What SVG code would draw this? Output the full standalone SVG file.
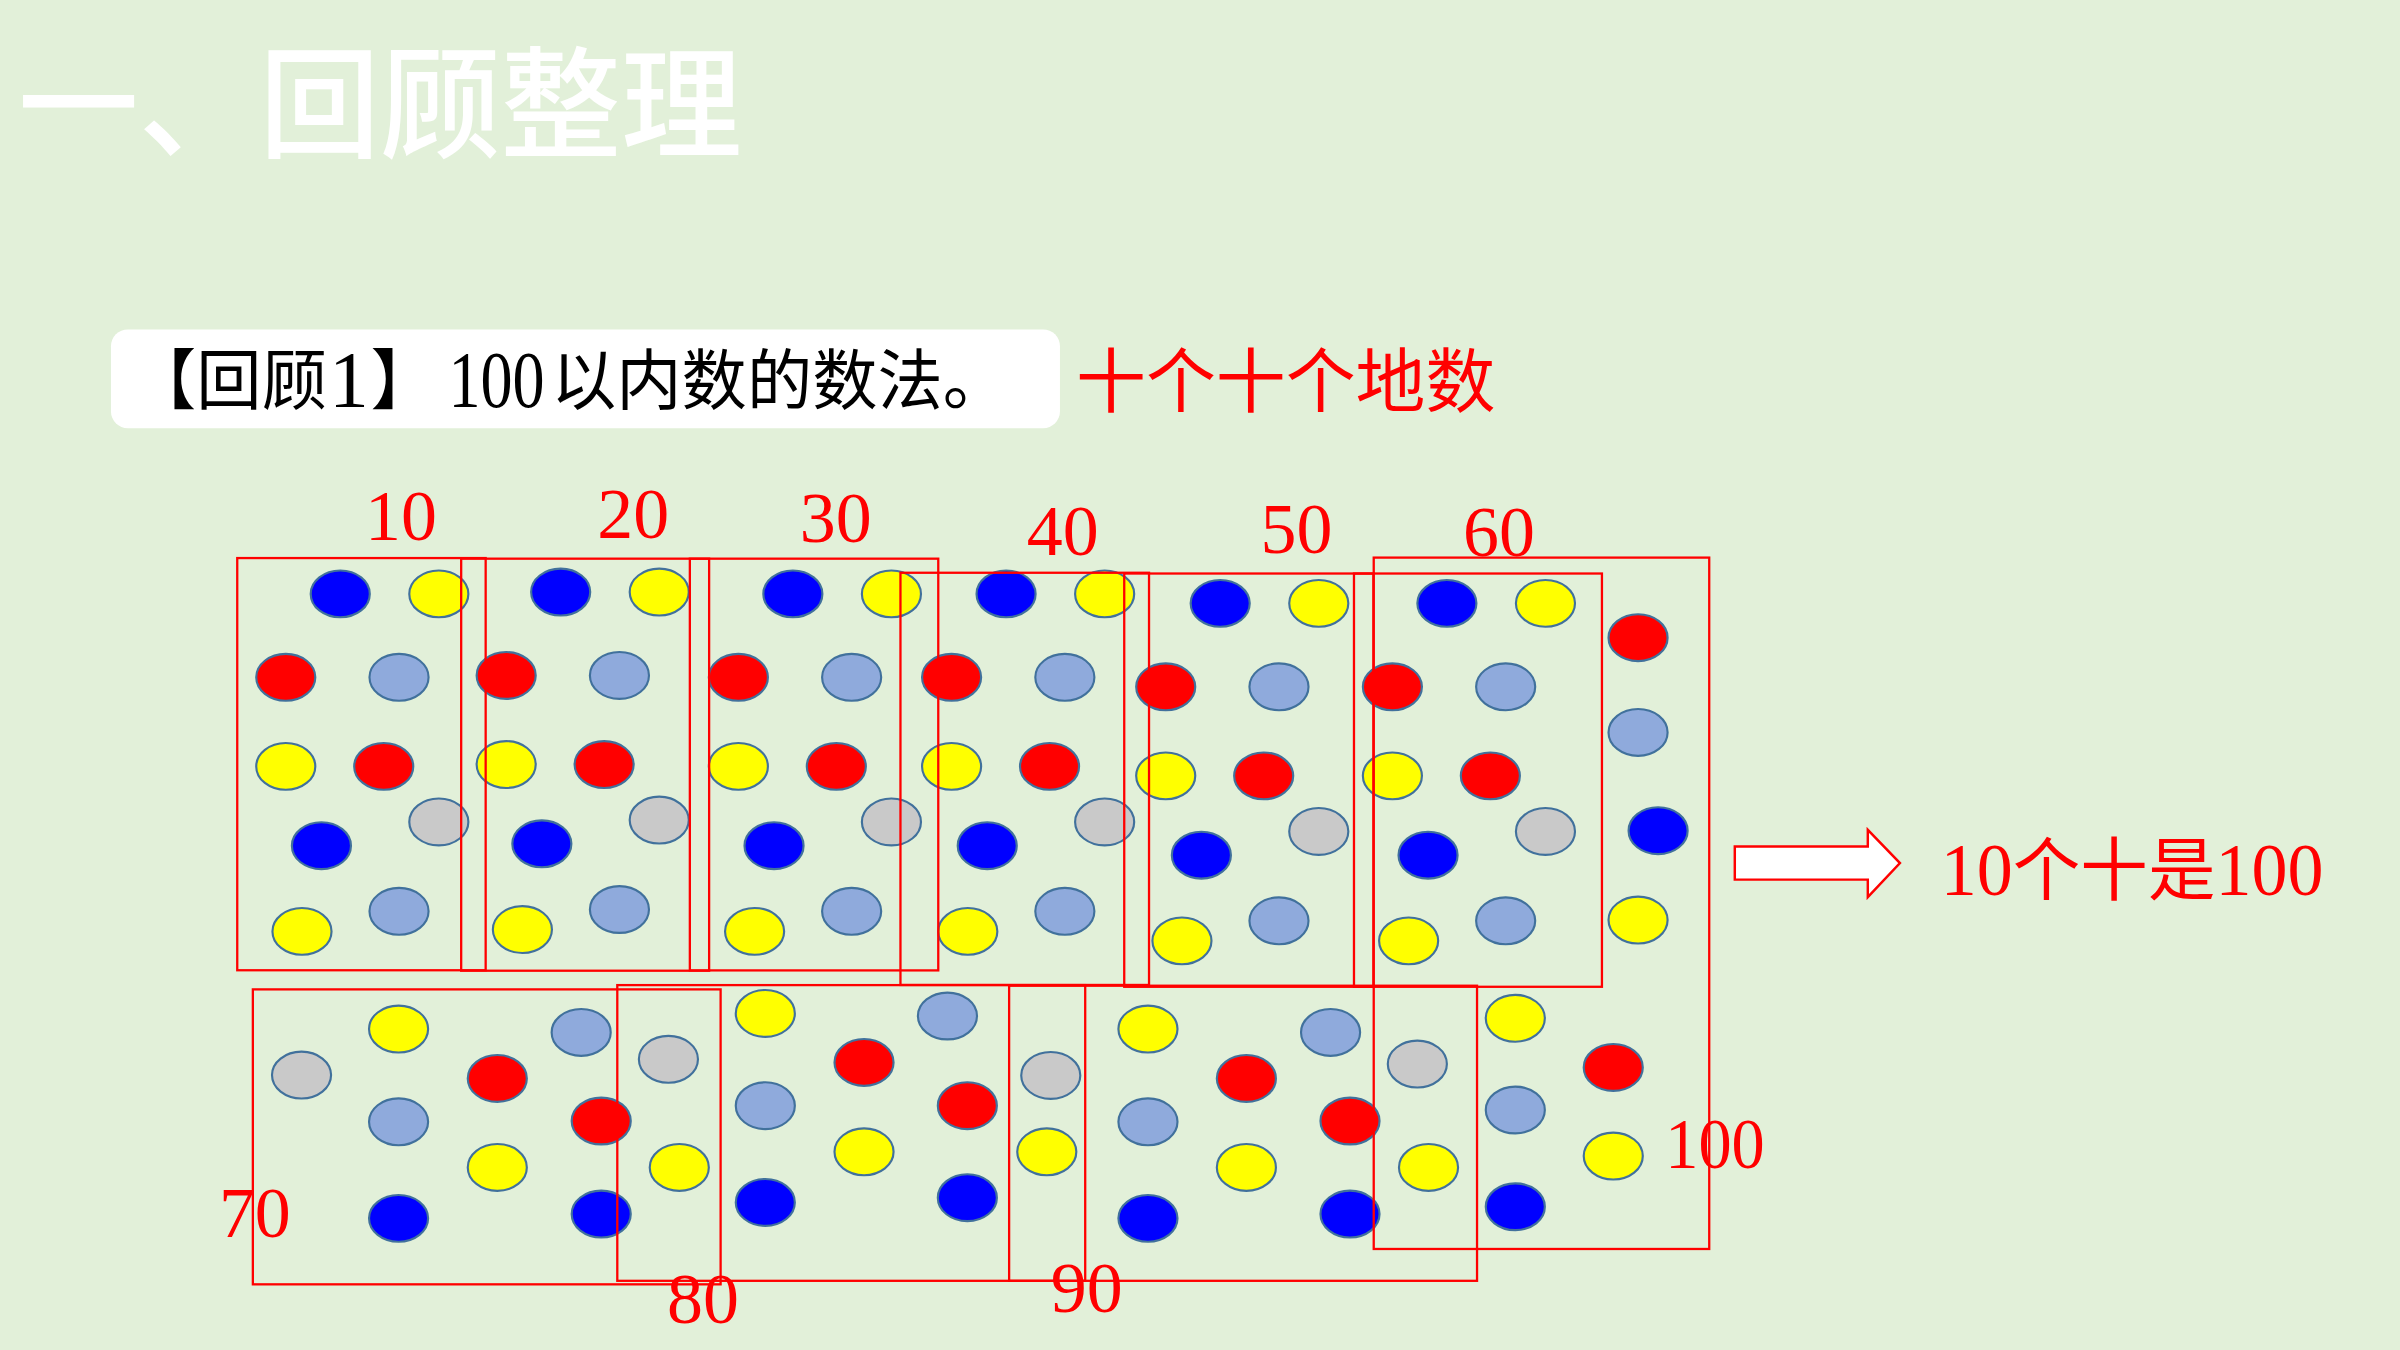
<svg xmlns="http://www.w3.org/2000/svg" xmlns:xlink="http://www.w3.org/1999/xlink" width="2400" height="1350" viewBox="0 0 2400 1350">
<style>
.cjk{font-family:"Noto Sans CJK SC","Noto Sans",sans-serif}
.ser{font-family:"Liberation Serif","Noto Sans CJK SC",serif}
.num{font-family:"Liberation Serif","Noto Sans CJK SC",serif;fill:#FF0000;font-size:47px;text-anchor:middle}
.b{fill:#0000FF}.y{fill:#FFFF00}.r{fill:#FF0000}.l{fill:#8FAADC}.g{fill:#C9C9C9}
.f{fill:none;stroke:#FF0000;stroke-width:1.5}
</style>
<defs>
<ellipse id="d" cx="0" cy="0" rx="19.3" ry="15.3" stroke="#41719C" stroke-width="1.4"/>
<g id="ten">
<use xlink:href="#d" href="#d" class="b" x="0" y="0"/>
<use xlink:href="#d" href="#d" class="y" x="64.4" y="0"/>
<use xlink:href="#d" href="#d" class="r" x="-35.6" y="54.5"/>
<use xlink:href="#d" href="#d" class="l" x="38.4" y="54.5"/>
<use xlink:href="#d" href="#d" class="y" x="-35.6" y="112.7"/>
<use xlink:href="#d" href="#d" class="r" x="28.4" y="112.7"/>
<use xlink:href="#d" href="#d" class="g" x="64.4" y="149"/>
<use xlink:href="#d" href="#d" class="b" x="-12.3" y="164.5"/>
<use xlink:href="#d" href="#d" class="y" x="-25" y="220.5"/>
<use xlink:href="#d" href="#d" class="l" x="38.4" y="207.4"/>
</g>
</defs>
<rect x="0" y="0" width="2400" height="1350" fill="#E2F0D9"/>
<g transform="scale(1.5306122)">
<g id="title">
<text class="cjk" x="11.7" y="97" font-size="79" fill="#FFFFFF" font-weight="500" textLength="473" lengthAdjust="spacingAndGlyphs">一、回顾整理</text>
</g>
<g id="subtitle">
<rect x="72.5" y="215.2" width="620" height="64.6" rx="11" fill="#FFFFFF"/>
<text class="ser" x="85.6" y="264" font-size="43" fill="#000000" textLength="128" lengthAdjust="spacingAndGlyphs">【回顾</text>
<text class="ser" x="228" y="266" font-size="52" fill="#000000" text-anchor="middle">1</text>
<text class="ser" x="242" y="264" font-size="43" fill="#000000">】</text>
<text class="ser" transform="translate(293 266) scale(0.79 1)" x="0" y="0" font-size="53" fill="#000000">100</text>
<text class="ser" x="360" y="264" font-size="43" fill="#000000" textLength="298.6" lengthAdjust="spacingAndGlyphs">以内数的数法。</text>
</g>
<g id="hint">
<text class="ser" x="703" y="266" font-size="46" fill="#FF0000" textLength="274" lengthAdjust="spacingAndGlyphs">十个十个地数</text>
</g>
<g id="dots">
<g id="dots10"><use xlink:href="#ten" href="#ten" x="222.3" y="388"/></g>
<g id="dots20"><use xlink:href="#ten" href="#ten" x="366.3" y="386.8"/></g>
<g id="dots30"><use xlink:href="#ten" href="#ten" x="518" y="388"/></g>
<g id="dots40"><use xlink:href="#ten" href="#ten" x="657.3" y="388"/></g>
<g id="dots50"><use xlink:href="#ten" href="#ten" x="797.2" y="394.2"/></g>
<g id="dots60"><use xlink:href="#ten" href="#ten" x="945.3" y="394.2"/></g>
<g id="dots70">
<use xlink:href="#d" href="#d" class="g" x="197" y="702.4"/>
<use xlink:href="#d" href="#d" class="y" x="260.4" y="672.3"/>
<use xlink:href="#d" href="#d" class="l" x="260.4" y="732.9"/>
<use xlink:href="#d" href="#d" class="b" x="260.4" y="796"/>
<use xlink:href="#d" href="#d" class="r" x="324.9" y="704.6"/>
<use xlink:href="#d" href="#d" class="y" x="324.9" y="762.7"/>
<use xlink:href="#d" href="#d" class="l" x="379.7" y="674.5"/>
<use xlink:href="#d" href="#d" class="r" x="392.8" y="732.4"/>
<use xlink:href="#d" href="#d" class="b" x="392.8" y="793.2"/>
<use xlink:href="#d" href="#d" class="g" x="436.7" y="692.1"/>
</g>
<g id="dots80">
<use xlink:href="#d" href="#d" class="y" x="443.8" y="762.7"/>
<use xlink:href="#d" href="#d" class="y" x="500" y="662.1"/>
<use xlink:href="#d" href="#d" class="l" x="500" y="722.4"/>
<use xlink:href="#d" href="#d" class="b" x="500" y="785.6"/>
<use xlink:href="#d" href="#d" class="r" x="564.5" y="694.1"/>
<use xlink:href="#d" href="#d" class="y" x="564.5" y="752.5"/>
<use xlink:href="#d" href="#d" class="l" x="619" y="663.8"/>
<use xlink:href="#d" href="#d" class="r" x="632" y="722.4"/>
<use xlink:href="#d" href="#d" class="b" x="632" y="782.5"/>
<use xlink:href="#d" href="#d" class="g" x="686.5" y="702.6"/>
</g>
<g id="dots90">
<use xlink:href="#d" href="#d" class="y" x="683.9" y="752.5"/>
<use xlink:href="#d" href="#d" class="y" x="750" y="672.3"/>
<use xlink:href="#d" href="#d" class="l" x="750" y="732.9"/>
<use xlink:href="#d" href="#d" class="b" x="750" y="796"/>
<use xlink:href="#d" href="#d" class="r" x="814.3" y="704.6"/>
<use xlink:href="#d" href="#d" class="y" x="814.3" y="762.7"/>
<use xlink:href="#d" href="#d" class="l" x="869.3" y="674.5"/>
<use xlink:href="#d" href="#d" class="r" x="882" y="732.4"/>
<use xlink:href="#d" href="#d" class="b" x="882" y="793.2"/>
<use xlink:href="#d" href="#d" class="g" x="926" y="695.2"/>
</g>
<g id="dots100">
<use xlink:href="#d" href="#d" class="y" x="933.3" y="762.7"/>
<use xlink:href="#d" href="#d" class="y" x="990" y="665.3"/>
<use xlink:href="#d" href="#d" class="l" x="990" y="725.2"/>
<use xlink:href="#d" href="#d" class="b" x="990" y="788.4"/>
<use xlink:href="#d" href="#d" class="r" x="1054" y="697.4"/>
<use xlink:href="#d" href="#d" class="y" x="1054" y="755.3"/>
<use xlink:href="#d" href="#d" class="r" x="1070.2" y="416.6"/>
<use xlink:href="#d" href="#d" class="l" x="1070.2" y="478.5"/>
<use xlink:href="#d" href="#d" class="b" x="1083.3" y="542.7"/>
<use xlink:href="#d" href="#d" class="y" x="1070.2" y="601.1"/>
</g>
</g>
<g id="n10"><rect class="f" x="155" y="364.6" width="162.3" height="269.3"/><text class="num" x="262" y="353">10</text></g>
<g id="n20"><rect class="f" x="301.3" y="365" width="162" height="269.2"/><text class="num" x="413.7" y="351.3">20</text></g>
<g id="n30"><rect class="f" x="450.7" y="365" width="162.3" height="269"/><text class="num" x="546" y="354">30</text></g>
<g id="n40"><rect class="f" x="588.3" y="374.2" width="162.4" height="269.3"/><text class="num" x="694.3" y="362.8">40</text></g>
<g id="n50"><rect class="f" x="734.5" y="374.7" width="162.8" height="270"/><text class="num" x="847" y="361">50</text></g>
<g id="n60"><rect class="f" x="884.6" y="374.7" width="162" height="270"/><text class="num" x="979.3" y="363.5">60</text></g>
<g id="n70"><rect class="f" x="165.2" y="646.4" width="305.6" height="192.7"/><text class="num" x="166.5" y="808.4">70</text></g>
<g id="n80"><rect class="f" x="403.3" y="643.6" width="305.7" height="193.2"/><text class="num" x="459.3" y="864.2">80</text></g>
<g id="n90"><rect class="f" x="659.3" y="644" width="305.7" height="192.8"/><text class="num" x="710" y="857">90</text></g>
<g id="n100"><rect class="f" x="897.5" y="364.3" width="219.2" height="451.7"/><text class="num" x="1088" y="763.4" style="text-anchor:start" textLength="65" lengthAdjust="spacingAndGlyphs">100</text></g>
<g id="connectors">
<polygon points="1133.4,553 1220.3,553 1220.3,542.2 1241.3,563.9 1220.3,586.1 1220.3,574.7 1133.4,574.7" fill="#FFFFFF" stroke="#FF0000" stroke-width="1.6"/>
</g>
<g id="result">
<text class="ser" x="1268" y="585" fill="#FF0000" textLength="250" lengthAdjust="spacingAndGlyphs"><tspan font-size="48">10</tspan><tspan font-size="45">个十是</tspan><tspan font-size="48">100</tspan></text>
</g>
</g>
</svg>
